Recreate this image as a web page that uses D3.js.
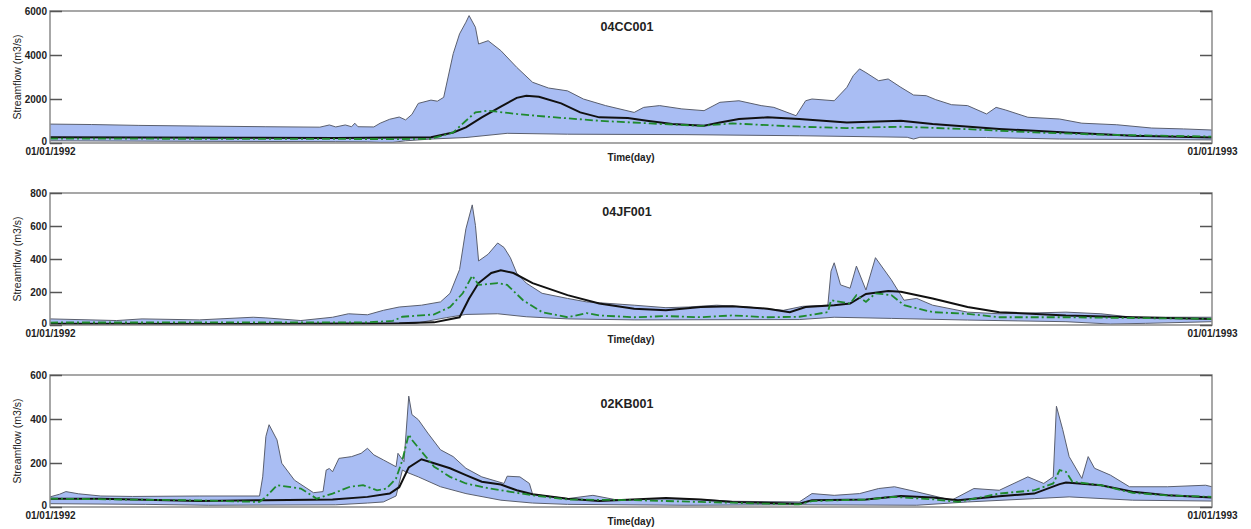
<!DOCTYPE html>
<html>
<head>
<meta charset="utf-8">
<script src="https://cdn.jsdelivr.net/npm/d3@7"></script>
<style>
	body { margin: 0; background: #fff; }
	text { font-family: "Liberation Sans", Arial, sans-serif; }
</style>
</head>
<body>
<svg id="chart" width="1251" height="529"></svg>
<script>
const stations = ["04CC001", "04JF001", "02KB001"];
const dateLabels = ["01/01/1992", "01/01/1993"];
const yMaxes = [6000, 800, 600];
const yTicks = [[0, 2000, 4000, 6000], [0, 200, 400, 600, 800], [0, 200, 400, 600]];

// all series are [day of year, streamflow m3/s]
const upper_04CC001 = [[0,860],[13,840],[28,800],[47,770],[68,740],[85,720],[88,820],[90,730],[93,820],[95,740],[96,900],[97,740],[102,730],[104,900],[107,1080],[110,1180],[112,1050],[114,1300],[116,1800],[120,1950],[122,1900],[124,2075],[127,4060],[129,4960],[131,5490],[132,5790],[134,5260],[135,4500],[138,4650],[142,4200],[147,3440],[152,2760],[157,2500],[163,2370],[168,2000],[175,1700],[184,1390],[187,1620],[192,1700],[199,1550],[206,1470],[211,1850],[217,1920],[224,1700],[228,1620],[235,1240],[238,1920],[240,2000],[247,1920],[251,2530],[253,3060],[255,3370],[257,3200],[261,2830],[264,2910],[268,2530],[272,2180],[276,2150],[279,1970],[284,1740],[289,1700],[295,1320],[298,1620],[301,1500],[308,1170],[318,1090],[325,900],[336,830],[347,680],[357,640],[366,590]];
const lower_04CC001 = [[0,100],[40,80],[90,60],[100,50],[104,30],[108,30],[112,100],[120,180],[131,250],[144,440],[163,400],[200,380],[236,330],[270,260],[272,180],[274,260],[295,250],[318,180],[366,140]];
const obs_04CC001 = [[0,260],[30,250],[60,240],[90,230],[110,250],[120,260],[127,480],[131,710],[136,1165],[142,1650],[147,2050],[150,2150],[154,2100],[161,1800],[167,1390],[173,1165],[182,1140],[188,1010],[196,860],[206,780],[211,935],[217,1090],[226,1165],[236,1090],[251,935],[268,1010],[278,860],[299,640],[320,480],[341,330],[366,250]];
const sim_04CC001 = [[0,200],[60,190],[110,180],[120,190],[127,480],[131,1010],[134,1390],[138,1470],[147,1320],[157,1190],[173,1010],[189,890],[205,780],[215,890],[236,740],[251,680],[268,740],[289,630],[310,480],[331,380],[366,290]];

const upper_04JF001 = [[0,37],[21,27],[29,37],[47,31],[64,47],[68,43],[79,27],[89,47],[94,68],[100,62],[105,89],[110,109],[117,120],[123,140],[126,192],[129,336],[131,583],[133,728],[134,604],[135,388],[138,429],[141,497],[143,470],[145,408],[147,315],[150,254],[155,192],[163,161],[169,140],[184,120],[194,105],[201,109],[210,120],[220,109],[231,89],[237,113],[245,120],[246,326],[247,377],[249,243],[252,223],[254,357],[257,212],[260,408],[265,274],[269,150],[273,161],[278,120],[289,78],[299,68],[320,78],[331,68],[341,47],[366,47]];
const lower_04JF001 = [[0,5],[100,5],[115,10],[125,45],[131,64],[141,68],[150,50],[163,37],[184,31],[236,33],[247,47],[265,40],[289,30],[320,20],[334,6],[345,10],[366,20]];
const obs_04JF001 = [[0,8],[60,6],[110,10],[121,16],[129,47],[132,161],[135,254],[139,315],[142,332],[146,315],[152,254],[163,181],[173,130],[184,99],[194,89],[205,109],[215,113],[226,99],[233,78],[238,109],[247,120],[252,130],[257,188],[264,206],[268,202],[278,161],[289,109],[299,78],[320,58],[341,47],[366,37]];
const sim_04JF001 = [[0,15],[100,16],[108,25],[111,50],[121,64],[126,109],[130,192],[133,299],[135,243],[141,254],[144,243],[149,150],[155,78],[163,47],[169,72],[173,58],[184,47],[194,54],[205,47],[215,58],[226,47],[236,50],[245,78],[246,150],[252,130],[254,181],[257,140],[260,192],[265,181],[269,120],[278,78],[289,68],[299,47],[320,47],[366,37]];

const upper_02KB001 = [[0,46],[3,58],[5,70],[9,60],[16,50],[26,48],[47,50],[66,50],[67,137],[68,321],[69,374],[71.5,305],[73,199],[77,122],[83,65],[86,70],[87,168],[88,175],[89,160],[91,221],[95,229],[98,244],[100,267],[102,237],[105,214],[109,183],[109.6,244],[111.5,206],[113,504],[114,420],[116,397],[119,336],[123,260],[127,229],[131,176],[136,137],[143,107],[144,140],[148,137],[151,107],[152,58],[163,38],[171,53],[179,31],[194,38],[205,34],[215,26],[236,23],[240,61],[247,53],[255,61],[261,84],[266,92],[273,69],[284,31],[291,84],[299,76],[308,137],[313,107],[316,137],[317,458],[319,351],[321,229],[325,130],[327,229],[329,176],[334,145],[340,92],[352,92],[364,99],[366,92]];
const lower_02KB001 = [[0,15],[30,12],[50,8],[90,10],[100,18],[105,23],[109,50],[111,168],[112,160],[116,137],[123,92],[131,61],[142,31],[152,18],[163,12],[200,8],[236,10],[273,8],[289,23],[310,38],[321,46],[341,31],[366,27]];
const obs_02KB001 = [[0,38],[16,38],[47,27],[68,31],[89,34],[100,46],[107,61],[110,90],[113,180],[117,217],[121,199],[126,176],[131,145],[136,115],[142,102],[147,76],[152,58],[163,38],[173,27],[194,41],[205,34],[215,23],[236,15],[240,31],[257,34],[268,50],[278,43],[286,31],[299,49],[310,61],[318,104],[320,111],[331,99],[341,69],[352,53],[366,43]];
const sim_02KB001 = [[0,38],[47,30],[66,23],[68,46],[71.5,99],[79,84],[84,38],[89,61],[94.5,92],[98.6,99],[103,76],[106,84],[109,130],[111,214],[113,330],[114,305],[117.5,244],[121,183],[126,137],[131,107],[138.6,84],[145,69],[152,53],[163,34],[184,31],[205,23],[226,15],[236,12],[240,27],[257,34],[265.5,46],[278,35],[286,23],[299,61],[310,76],[316,107],[318,168],[320,160],[322,115],[331,99],[341,64],[352,53],[366,46]];

const bands = [
	{upper: upper_04CC001, lower: lower_04CC001, obs: obs_04CC001, sim: sim_04CC001},
	{upper: upper_04JF001, lower: lower_04JF001, obs: obs_04JF001, sim: sim_04JF001},
	{upper: upper_02KB001, lower: lower_02KB001, obs: obs_02KB001, sim: sim_02KB001}
];

const margin = {left: 50, right: 39};
const panelTops = [11, 193, 375];
const panelHeight = 132;
const titleOffsets = [20, 23, 33];
const width = 1251 - margin.left - margin.right;

const svg = d3.select("#chart");

function plot_panel(i) {
	const s = bands[i];
	const g = svg.append("g")
		.attr("transform", "translate(" + margin.left + "," + panelTops[i] + ")");

	const xScale = d3.scaleLinear().domain([0, 366]).range([0, width]);
	const yScale = d3.scaleLinear().domain([0, yMaxes[i]]).range([panelHeight, 0]);

	const line = d3.line()
		.x(d => xScale(d[0]))
		.y(d => yScale(d[1]));

	// spread between lower and upper envelope
	g.append("path")
		.attr("d", line(s.upper.concat(s.lower.slice().reverse())) + "Z")
		.attr("fill", "#a9bdf3")
		.attr("stroke", "none");

	g.append("path").attr("d", line(s.upper))
		.attr("fill", "none").attr("stroke", "#5a5f6e").attr("stroke-width", 1);
	g.append("path").attr("d", line(s.lower))
		.attr("fill", "none").attr("stroke", "#5a5f6e").attr("stroke-width", 1);

	g.append("path").attr("d", line(s.obs))
		.attr("fill", "none").attr("stroke", "#111").attr("stroke-width", 2);

	g.append("path").attr("d", line(s.sim))
		.attr("fill", "none").attr("stroke", "#1f8a2e").attr("stroke-width", 1.8)
		.attr("stroke-dasharray", "8,3,2,3");

	// frame
	g.append("rect")
		.attr("x", 0).attr("y", 0)
		.attr("width", width).attr("height", panelHeight)
		.attr("fill", "none").attr("stroke", "#8a8a8a").attr("stroke-width", 1.5);

	const yAxis = g.append("g")
		.call(d3.axisLeft(yScale).tickValues(yTicks[i]).tickSize(-12).tickPadding(3).tickFormat(d3.format("d")));
	yAxis.select(".domain").remove();
	yAxis.selectAll("line").attr("stroke", "#555").attr("stroke-width", 1.5);
	yAxis.selectAll("text")
		.attr("font-size", "10px").attr("font-weight", "bold").attr("fill", "#222")
		.style("font-family", "'Liberation Sans', Arial, sans-serif");
	// the zero label sits just above the date label
	yAxis.selectAll(".tick").filter(d => d === 0).select("text").attr("dy", "0.1em");

	const yAxisRight = g.append("g")
		.attr("transform", "translate(" + width + ",0)")
		.call(d3.axisRight(yScale).tickValues(yTicks[i]).tickSize(-12).tickFormat(""));
	yAxisRight.select(".domain").remove();
	yAxisRight.selectAll("line").attr("stroke", "#555").attr("stroke-width", 1.5);

	const xAxis = g.append("g")
		.attr("transform", "translate(0," + panelHeight + ")")
		.call(d3.axisBottom(xScale).tickValues([0, 366]).tickSize(0).tickPadding(5)
			.tickFormat((d, k) => dateLabels[k]));
	xAxis.select(".domain").remove();
	xAxis.selectAll("text")
		.attr("font-size", "10px").attr("font-weight", "bold").attr("fill", "#222")
		.style("font-family", "'Liberation Sans', Arial, sans-serif");

	g.append("text")
		.attr("x", width / 2)
		.attr("y", panelHeight + 18)
		.attr("text-anchor", "middle")
		.attr("font-size", "10px").attr("font-weight", "bold").attr("fill", "#222")
		.text("Time(day)");

	g.append("text")
		.attr("transform", "rotate(-90)")
		.attr("x", -panelHeight / 2)
		.attr("y", -29)
		.attr("text-anchor", "middle")
		.attr("font-size", "10.5px").attr("fill", "#222")
		.text("Streamflow (m3/s)");

	g.append("text")
		.attr("x", width / 2 - 4)
		.attr("y", titleOffsets[i])
		.attr("text-anchor", "middle")
		.attr("font-size", "12.5px").attr("font-weight", "bold").attr("fill", "#222")
		.text(stations[i]);
}

for (let i = 0; i < stations.length; i++) {
	plot_panel(i);
}
</script>
</body>
</html>
